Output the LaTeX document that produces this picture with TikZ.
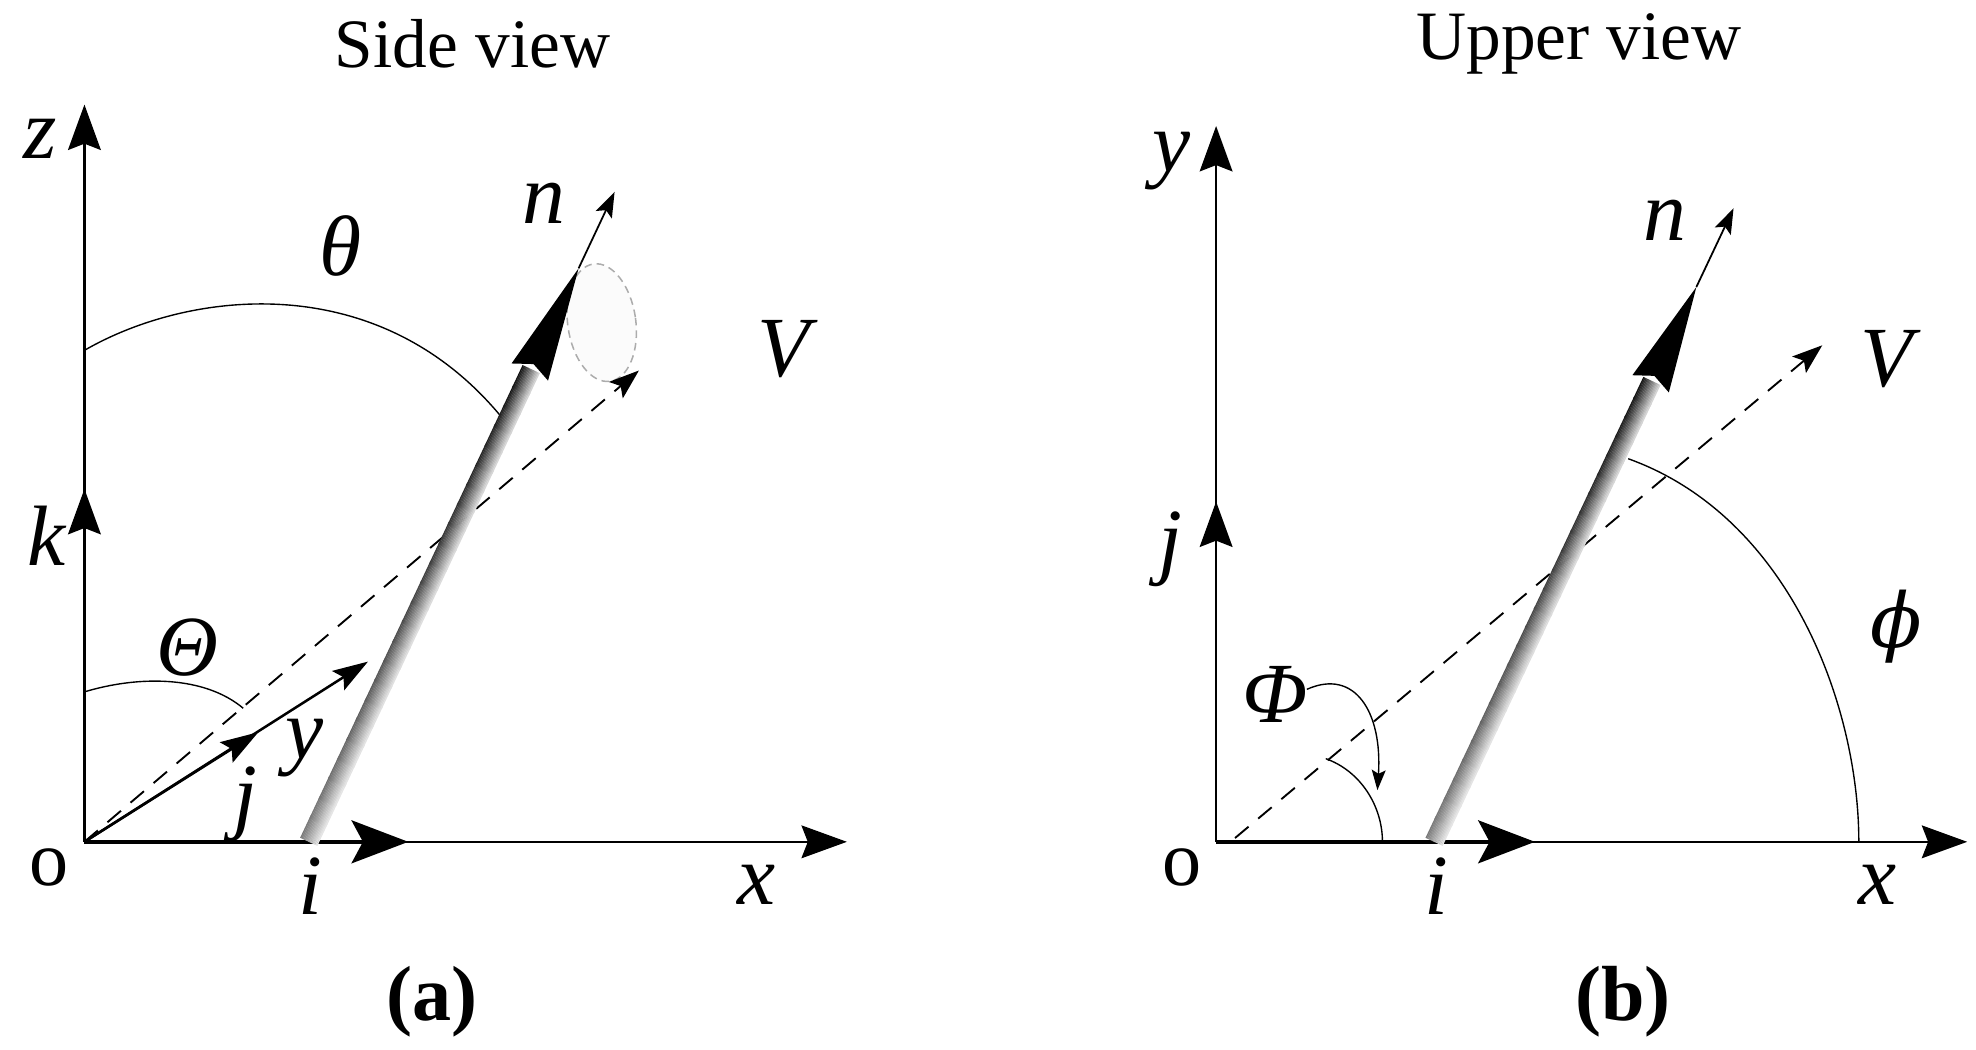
\documentclass[tikz,border=0pt]{standalone}
\usepackage{fontspec}
\setmainfont{Liberation Serif}
\newfontfamily\dvserif{DejaVu Serif}
\usetikzlibrary{arrows.meta,calc}
\newcommand\drawnbar[2]{%
  \foreach \s in {0,...,23}{%
    \foreach \k in {0,...,14}{%
      \pgfmathtruncatemacro\dk{(18+(14-\k)/14*75)*(0.55+0.45*(\s+0.5)/24)}%
      \pgfmathsetmacro\dd{\k-7}%
      \pgfmathsetmacro\ta{\s/24}%
      \pgfmathsetmacro\tb{(\s+1.15)/24}%
      \draw[line width=1.15pt,black!\dk] ($(#1)!\ta!(#2)+(25.2:\dd)$) -- ($(#1)!\tb!(#2)+(25.2:\dd)$);
    }%
  }%
}
\begin{document}
\begin{tikzpicture}[x=1pt,y=-1pt,
  axisarrow/.style={line width=1.8pt,-{Stealth[length=36pt,width=26pt,inset=5pt]}},
  unitv/.style={line width=3.4pt,-{Stealth[length=45pt,width=34pt,inset=9pt]}},
  thinarrow/.style={line width=1.4pt,-{Stealth[length=20pt,width=14pt,inset=4pt]}},
  vdash/.style={line width=1.5pt,dash pattern=on 14pt off 10pt,-{Stealth[length=24pt,width=17pt,inset=5pt]}},
  arcline/.style={line width=1.1pt},
  lab/.style={inner sep=0pt,font=\fontsize{68}{68}\selectfont\itshape},
  labup/.style={inner sep=0pt,font=\fontsize{62}{62}\selectfont},
  title/.style={inner sep=0pt,font=\fontsize{55}{55}\selectfont},
  captext/.style={inner sep=0pt,font=\fontsize{62}{62}\selectfont\bfseries}
]
\useasboundingbox (0,0) rectangle (1568,833);

% ================= Panel (a) =================
\coordinate (Oa) at (67,668);
\coordinate (za) at (67,83);
\coordinate (xa) at (672,668);
\coordinate (ka) at (67,388);
\coordinate (ia) at (324,668);
\coordinate (nbA) at (245,668);
\coordinate (nhA) at ($(nbA)+(-64.8:412)$);
\coordinate (ntA) at ($(nbA)+(-64.8:503)$);
\coordinate (nxA) at ($(nbA)+(-64.8:570)$);
\coordinate (vA) at (507,294);
\coordinate (jA) at (205,581);
\coordinate (yA) at (292,525);

% ellipse of rotation
\draw[gray!65,dash pattern=on 6pt off 4pt,line width=1.2pt,fill=gray!3,rotate around={8:(477.5,256)}] (477.5,256) ellipse [x radius=27, y radius=47];

\draw[axisarrow] (Oa) -- (za);
\draw[axisarrow] (Oa) -- (ka);
\draw[axisarrow] (Oa) -- (xa);
\draw[unitv] (Oa) -- (ia);

% theta arcs
\draw[arcline] (67,278) .. controls (150,230) and (300,212) .. (398,331);
\draw[arcline] (67,549) .. controls (110,536) and (162,536) .. (193,562);

% V dashed
\draw[vdash] (Oa) -- (vA);

% j / y vector
\draw[line width=2pt,-{Stealth[length=30pt,width=19pt,inset=5pt]}] (Oa) -- (jA);
\draw[line width=2pt,-{Stealth[length=28pt,width=18pt,inset=5pt]}] (Oa) -- (yA);

% n bar
\drawnbar{nbA}{nhA}
\fill (ntA) -- ($(nhA)+(25.2:16)$) -- ($(nhA)+(-64.8:7)$) -- ($(nhA)+(205.2:16)$) -- cycle;
\draw[thinarrow] (ntA) -- (nxA);

\node[title] (tA) at (375,35) {Side view};
\node[lab] (lz) at (32,110) {z};
\node[lab] (lth) at (270,195) {θ};
\node[lab] (lnA) at (432,161) {n};
\node[lab] (lVA) at (622,277) {V};
\node[lab] (lk) at (37,425) {k};
\node[lab] (lTh) at (149,514) {Θ};
\node[lab] (lyA) at (242,594) {y};
\node[lab] (ljA) at (195,638) {j};
\node[labup] (lOA) at (39,688) {o};
\node[lab] (liA) at (246,703) {i};
\node[lab] (lxA) at (600,702) {x};
\node[captext] (capA) at (343,795) {(a)};

% ================= Panel (b) =================
\coordinate (Ob) at (965,668);
\coordinate (yb) at (965,100);
\coordinate (xb) at (1561,668);
\coordinate (jb) at (965,398);
\coordinate (ib) at (1218,668);
\coordinate (nbB) at (1138,668);
\coordinate (nhB) at ($(nbB)+(-64.7:402)$);
\coordinate (ntB) at ($(nbB)+(-64.7:487)$);
\coordinate (nxB) at ($(nbB)+(-64.7:556)$);
\coordinate (vsB) at (980,665);
\coordinate (vB) at (1446,274);

\draw[axisarrow] (Ob) -- (yb);
\draw[axisarrow] (Ob) -- (jb);
\draw[axisarrow] (Ob) -- (xb);
\draw[unitv] (Ob) -- (ib);

% phi arcs
\draw[arcline] (1475,668) .. controls (1475,560) and (1420,410) .. (1292,364);
\draw[arcline] (1097,668) .. controls (1097,640) and (1080,612) .. (1052,602);
\draw[arcline,-{Stealth[length=16pt,width=11pt,inset=3pt]}] (1037,547) .. controls (1075,530) and (1097,565) .. (1093,627);

\draw[vdash] (vsB) -- (vB);

\drawnbar{nbB}{nhB}
\fill (ntB) -- ($(nhB)+(25.3:16)$) -- ($(nhB)+(-64.7:7)$) -- ($(nhB)+(205.3:16)$) -- cycle;
\draw[thinarrow] (ntB) -- (nxB);

\node[title] (tB) at (1253,35) {Upper view};
\node[lab] (lyB) at (930,128) {y};
\node[lab] (lnB) at (1321,175) {n};
\node[lab] (lVB) at (1497,285) {V};
\node[lab] (ljB) at (929,436) {j};
\node[lab,font=\fontsize{60}{60}\selectfont\dvserif\itshape] (lph) at (1505,497) {ϕ};
\node[lab] (lPh) at (1012,551) {Φ};
\node[labup] (lOB) at (938,688) {o};
\node[lab] (liB) at (1140,703) {i};
\node[lab] (lxB) at (1490,702) {x};
\node[captext] (capB) at (1288,795) {(b)};
\end{tikzpicture}
\end{document}
